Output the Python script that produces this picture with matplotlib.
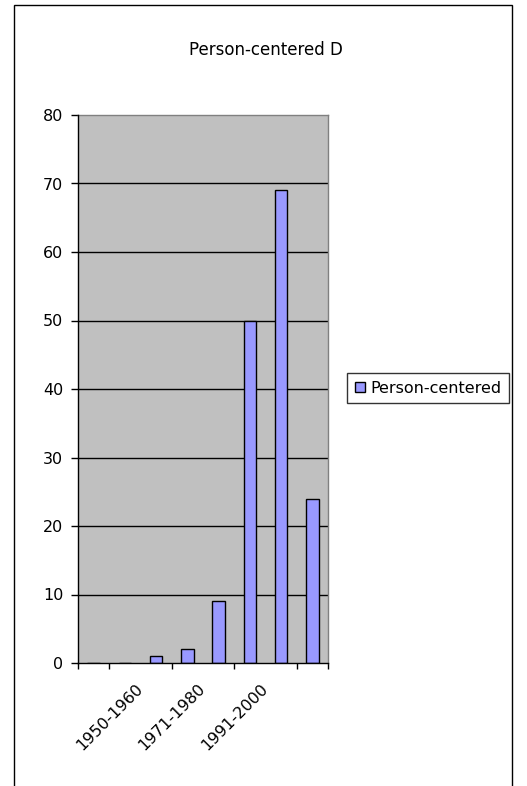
import matplotlib
matplotlib.use("Agg")
import matplotlib.pyplot as plt
from matplotlib.patches import Rectangle
import numpy as np

# ---- data ----
title = "Person-centered D"
series_name = "Person-centered"
values = [0, 0, 1, 2, 9, 50, 69, 24]          # one value per category slot
shown_labels = ["1950-1960", "1971-1980", "1991-2000"]
label_slots = [1.5, 3.5, 5.5]                 # where Excel drew the visible labels
y_ticks = [0, 10, 20, 30, 40, 50, 60, 70, 80]

plt.rcParams['font.family'] = ['DejaVu Sans']

W, H = 527, 786
fig = plt.figure(figsize=(W / 100, H / 100), dpi=100)
fig.patch.set_facecolor("white")

# outer chart frame
fig.patches.append(Rectangle((14 / W, -0.05), (512 - 14) / W, 1.05 - 5 / H,
                             transform=fig.transFigure, fill=False,
                             edgecolor="black", linewidth=1.0))

left, right, top, bottom = 78, 328, 115, 663
ax = fig.add_axes([left / W, 1 - bottom / H, (right - left) / W, (bottom - top) / H])
ax.set_facecolor("#c0c0c0")

x = np.arange(len(values))
bars = ax.bar(x, values, width=0.4, color="#9999ff", edgecolor="black",
              linewidth=1.0, zorder=3, label=series_name)

ax.set_xlim(-0.5, len(values) - 0.5)
ax.set_ylim(0, 80)

# y axis
ax.set_yticks(y_ticks)
ax.set_yticklabels([str(v) for v in y_ticks], fontsize=11.5)
ax.tick_params(axis="y", direction="out", length=5, width=1, pad=5.5, colors="black")
for v in y_ticks[1:-1]:
    ax.axhline(v, color="black", linewidth=1.0, zorder=2)

# x axis: boundary tick marks (minor) + label positions (major, no marks)
ax.set_xticks(np.arange(-0.5, len(values), 1.0), minor=True)
ax.tick_params(axis="x", which="minor", direction="out", length=4.5, width=1)
ax.set_xticks(label_slots)
ax.set_xticklabels(shown_labels, fontsize=11.5, rotation=45, ha="right",
                   va="center", rotation_mode="anchor")
ax.tick_params(axis="x", which="major", length=0, pad=17)

for s in ["left", "bottom"]:
    ax.spines[s].set_color("black")
    ax.spines[s].set_linewidth(1.0)
    ax.spines[s].set_zorder(4)
for s in ["top", "right"]:
    ax.spines[s].set_color("#808080")
    ax.spines[s].set_linewidth(1.0)

fig.text(266 / W, 1 - 50 / H, title, ha="center", va="center", fontsize=12)

leg = ax.legend(loc="center left", bbox_to_anchor=(347 / W, 1 - 388 / H),
                bbox_transform=fig.transFigure, fontsize=11.5, frameon=True,
                fancybox=False, edgecolor="black", handlelength=0.6,
                handleheight=0.6, handletextpad=0.35, borderpad=0.5,
                borderaxespad=0)
leg.get_frame().set_linewidth(1.0)

fig.savefig("out.png", dpi=100)
